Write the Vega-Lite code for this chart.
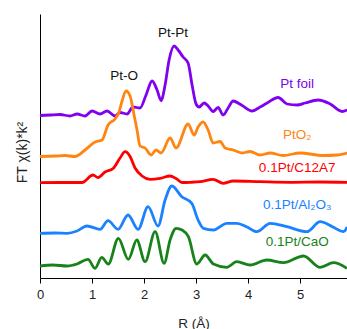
{
  "$schema": "https://vega.github.io/schema/vega-lite/v6.json",
  "width": 307,
  "height": 264,
  "autosize": {"type": "none"},
  "padding": {"left": 40, "top": 14, "right": 0, "bottom": 51},
  "background": "white",
  "config": {
    "view": {"stroke": null},
    "font": "Liberation Sans",
    "axis": {"labelFont": "Liberation Sans", "titleFont": "Liberation Sans", "grid": false}
  },
  "datasets": {
    "curves": [
      {"s": "Pt foil", "R": 0, "v": 16.25}, {"s": "Pt foil", "R": 0.192, "v": 16.3}, {"s": "Pt foil", "R": 0.385, "v": 16.35}, {"s": "Pt foil", "R": 0.577, "v": 16.2}, {"s": "Pt foil", "R": 0.712, "v": 16.4}, {"s": "Pt foil", "R": 0.865, "v": 16.2}, {"s": "Pt foil", "R": 1.0, "v": 16.7}, {"s": "Pt foil", "R": 1.154, "v": 16.4}, {"s": "Pt foil", "R": 1.288, "v": 16.7}, {"s": "Pt foil", "R": 1.442, "v": 16.2}, {"s": "Pt foil", "R": 1.538, "v": 16.55}, {"s": "Pt foil", "R": 1.673, "v": 16.4}, {"s": "Pt foil", "R": 1.788, "v": 17.1}, {"s": "Pt foil", "R": 1.923, "v": 17.0}, {"s": "Pt foil", "R": 2.038, "v": 18.3}, {"s": "Pt foil", "R": 2.154, "v": 19.7}, {"s": "Pt foil", "R": 2.25, "v": 18.8}, {"s": "Pt foil", "R": 2.327, "v": 17.75}, {"s": "Pt foil", "R": 2.404, "v": 19.3}, {"s": "Pt foil", "R": 2.481, "v": 21.8}, {"s": "Pt foil", "R": 2.577, "v": 23.2}, {"s": "Pt foil", "R": 2.654, "v": 22.8}, {"s": "Pt foil", "R": 2.75, "v": 22.1}, {"s": "Pt foil", "R": 2.846, "v": 21.5}, {"s": "Pt foil", "R": 2.923, "v": 19.3}, {"s": "Pt foil", "R": 3.0, "v": 17.4}, {"s": "Pt foil", "R": 3.058, "v": 17.1}, {"s": "Pt foil", "R": 3.154, "v": 17.5}, {"s": "Pt foil", "R": 3.231, "v": 17.2}, {"s": "Pt foil", "R": 3.327, "v": 16.65}, {"s": "Pt foil", "R": 3.423, "v": 17.05}, {"s": "Pt foil", "R": 3.519, "v": 16.3}, {"s": "Pt foil", "R": 3.615, "v": 17.0}, {"s": "Pt foil", "R": 3.712, "v": 17.7}, {"s": "Pt foil", "R": 3.885, "v": 17.25}, {"s": "Pt foil", "R": 4.077, "v": 16.7}, {"s": "Pt foil", "R": 4.231, "v": 17.1}, {"s": "Pt foil", "R": 4.365, "v": 17.5}, {"s": "Pt foil", "R": 4.577, "v": 18.05}, {"s": "Pt foil", "R": 4.75, "v": 17.4}, {"s": "Pt foil", "R": 4.942, "v": 17.3}, {"s": "Pt foil", "R": 5.096, "v": 17.5}, {"s": "Pt foil", "R": 5.346, "v": 17.8}, {"s": "Pt foil", "R": 5.577, "v": 17.4}, {"s": "Pt foil", "R": 5.808, "v": 16.65}, {"s": "Pt foil", "R": 5.904, "v": 16.8},

      {"s": "PtO2", "R": 0, "v": 12.15}, {"s": "PtO2", "R": 0.288, "v": 12.2}, {"s": "PtO2", "R": 0.481, "v": 12.25}, {"s": "PtO2", "R": 0.673, "v": 12.15}, {"s": "PtO2", "R": 0.865, "v": 12.8}, {"s": "PtO2", "R": 1.058, "v": 13.6}, {"s": "PtO2", "R": 1.192, "v": 13.8}, {"s": "PtO2", "R": 1.308, "v": 15.3}, {"s": "PtO2", "R": 1.442, "v": 15.9}, {"s": "PtO2", "R": 1.519, "v": 16.6}, {"s": "PtO2", "R": 1.577, "v": 17.7}, {"s": "PtO2", "R": 1.654, "v": 18.7}, {"s": "PtO2", "R": 1.731, "v": 18.2}, {"s": "PtO2", "R": 1.808, "v": 16.3}, {"s": "PtO2", "R": 1.865, "v": 14.8}, {"s": "PtO2", "R": 1.923, "v": 13.2}, {"s": "PtO2", "R": 2.019, "v": 13.0}, {"s": "PtO2", "R": 2.135, "v": 12.3}, {"s": "PtO2", "R": 2.231, "v": 12.8}, {"s": "PtO2", "R": 2.327, "v": 12.5}, {"s": "PtO2", "R": 2.5, "v": 14.0}, {"s": "PtO2", "R": 2.615, "v": 13.0}, {"s": "PtO2", "R": 2.846, "v": 15.4}, {"s": "PtO2", "R": 2.962, "v": 14.3}, {"s": "PtO2", "R": 3.038, "v": 15.1}, {"s": "PtO2", "R": 3.135, "v": 15.6}, {"s": "PtO2", "R": 3.231, "v": 14.8}, {"s": "PtO2", "R": 3.327, "v": 13.5}, {"s": "PtO2", "R": 3.462, "v": 13.65}, {"s": "PtO2", "R": 3.558, "v": 13.0}, {"s": "PtO2", "R": 3.712, "v": 12.8}, {"s": "PtO2", "R": 3.885, "v": 12.5}, {"s": "PtO2", "R": 4.038, "v": 12.65}, {"s": "PtO2", "R": 4.231, "v": 12.3}, {"s": "PtO2", "R": 4.423, "v": 12.5}, {"s": "PtO2", "R": 4.673, "v": 12.25}, {"s": "PtO2", "R": 5.0, "v": 12.5}, {"s": "PtO2", "R": 5.442, "v": 12.25}, {"s": "PtO2", "R": 5.712, "v": 12.3}, {"s": "PtO2", "R": 5.904, "v": 12.5},

      {"s": "C12A7", "R": 0, "v": 9.53}, {"s": "C12A7", "R": 0.385, "v": 9.55}, {"s": "C12A7", "R": 0.808, "v": 9.55}, {"s": "C12A7", "R": 1.019, "v": 10.3}, {"s": "C12A7", "R": 1.115, "v": 10.05}, {"s": "C12A7", "R": 1.25, "v": 10.6}, {"s": "C12A7", "R": 1.404, "v": 10.95}, {"s": "C12A7", "R": 1.538, "v": 12.0}, {"s": "C12A7", "R": 1.635, "v": 12.63}, {"s": "C12A7", "R": 1.731, "v": 12.15}, {"s": "C12A7", "R": 1.827, "v": 11.0}, {"s": "C12A7", "R": 1.962, "v": 10.2}, {"s": "C12A7", "R": 2.115, "v": 9.87}, {"s": "C12A7", "R": 2.308, "v": 9.97}, {"s": "C12A7", "R": 2.5, "v": 10.2}, {"s": "C12A7", "R": 2.615, "v": 9.95}, {"s": "C12A7", "R": 2.731, "v": 9.55}, {"s": "C12A7", "R": 2.885, "v": 9.57}, {"s": "C12A7", "R": 3.077, "v": 9.63}, {"s": "C12A7", "R": 3.327, "v": 9.87}, {"s": "C12A7", "R": 3.519, "v": 9.47}, {"s": "C12A7", "R": 3.712, "v": 9.7}, {"s": "C12A7", "R": 4.231, "v": 9.63}, {"s": "C12A7", "R": 4.808, "v": 9.57}, {"s": "C12A7", "R": 5.385, "v": 9.6}, {"s": "C12A7", "R": 5.904, "v": 9.57},

      {"s": "Al2O3", "R": 0, "v": 4.47}, {"s": "Al2O3", "R": 0.288, "v": 4.5}, {"s": "Al2O3", "R": 0.519, "v": 4.47}, {"s": "Al2O3", "R": 0.712, "v": 4.7}, {"s": "Al2O3", "R": 0.904, "v": 5.2}, {"s": "Al2O3", "R": 1.154, "v": 4.87}, {"s": "Al2O3", "R": 1.308, "v": 5.73}, {"s": "Al2O3", "R": 1.5, "v": 4.87}, {"s": "Al2O3", "R": 1.692, "v": 6.3}, {"s": "Al2O3", "R": 1.885, "v": 4.87}, {"s": "Al2O3", "R": 2.077, "v": 7.13}, {"s": "Al2O3", "R": 2.269, "v": 5.2}, {"s": "Al2O3", "R": 2.404, "v": 7.8}, {"s": "Al2O3", "R": 2.533, "v": 9.2}, {"s": "Al2O3", "R": 2.725, "v": 8.13}, {"s": "Al2O3", "R": 2.917, "v": 7.47}, {"s": "Al2O3", "R": 3.038, "v": 5.8}, {"s": "Al2O3", "R": 3.14, "v": 4.97}, {"s": "Al2O3", "R": 3.333, "v": 4.8}, {"s": "Al2O3", "R": 3.59, "v": 5.47}, {"s": "Al2O3", "R": 3.783, "v": 5.47}, {"s": "Al2O3", "R": 3.98, "v": 5.1}, {"s": "Al2O3", "R": 4.167, "v": 4.63}, {"s": "Al2O3", "R": 4.423, "v": 5.47}, {"s": "Al2O3", "R": 4.744, "v": 5.13}, {"s": "Al2O3", "R": 5.128, "v": 4.63}, {"s": "Al2O3", "R": 5.385, "v": 5.63}, {"s": "Al2O3", "R": 5.64, "v": 5.07}, {"s": "Al2O3", "R": 5.833, "v": 4.63}, {"s": "Al2O3", "R": 5.904, "v": 5.1},

      {"s": "CaO", "R": 0, "v": 1.2}, {"s": "CaO", "R": 0.25, "v": 1.3}, {"s": "CaO", "R": 0.519, "v": 1.2}, {"s": "CaO", "R": 0.712, "v": 1.4}, {"s": "CaO", "R": 0.923, "v": 1.87}, {"s": "CaO", "R": 1.058, "v": 0.97}, {"s": "CaO", "R": 1.187, "v": 2.07}, {"s": "CaO", "R": 1.313, "v": 1.4}, {"s": "CaO", "R": 1.506, "v": 3.97}, {"s": "CaO", "R": 1.698, "v": 1.87}, {"s": "CaO", "R": 1.86, "v": 3.8}, {"s": "CaO", "R": 2.019, "v": 1.63}, {"s": "CaO", "R": 2.212, "v": 4.63}, {"s": "CaO", "R": 2.385, "v": 1.47}, {"s": "CaO", "R": 2.5, "v": 3.8}, {"s": "CaO", "R": 2.615, "v": 4.97}, {"s": "CaO", "R": 2.731, "v": 4.8}, {"s": "CaO", "R": 2.852, "v": 4.13}, {"s": "CaO", "R": 3.013, "v": 1.4}, {"s": "CaO", "R": 3.173, "v": 2.3}, {"s": "CaO", "R": 3.333, "v": 1.4}, {"s": "CaO", "R": 3.59, "v": 1.07}, {"s": "CaO", "R": 3.783, "v": 1.63}, {"s": "CaO", "R": 4.038, "v": 1.3}, {"s": "CaO", "R": 4.36, "v": 1.8}, {"s": "CaO", "R": 4.679, "v": 1.53}, {"s": "CaO", "R": 5.064, "v": 2.2}, {"s": "CaO", "R": 5.385, "v": 1.07}, {"s": "CaO", "R": 5.64, "v": 1.53}, {"s": "CaO", "R": 5.898, "v": 0.97}
    ],
    "labels": [
      {"s": "peak", "R": 2.558, "v": 24.5, "t": "Pt-Pt"},
      {"s": "peak", "R": 1.615, "v": 20.2, "t": "Pt-O"},
      {"s": "Pt foil", "R": 4.942, "v": 19.4, "t": "Pt foil"},
      {"s": "PtO2", "R": 4.942, "v": 14.3, "t": "PtO₂"},
      {"s": "C12A7", "R": 4.942, "v": 11.0, "t": "0.1Pt/C12A7"},
      {"s": "Al2O3", "R": 4.942, "v": 7.3, "t": "0.1Pt/Al₂O₃"},
      {"s": "CaO", "R": 4.942, "v": 3.65, "t": "0.1Pt/CaO"}
    ]
  },
  "layer": [
    {
      "mark": {"type": "rule", "color": "black", "strokeWidth": 1},
      "encoding": {"y": {"datum": 26.4, "type": "quantitative", "scale": {"domain": [0, 26.4]}}}
    },
    {
      "data": {"name": "curves"},
      "mark": {"type": "line", "interpolate": "monotone", "strokeWidth": 2.8, "clip": true},
      "encoding": {
        "x": {
          "field": "R", "type": "quantitative",
          "scale": {"domain": [0, 5.9], "nice": false},
          "axis": {
            "values": [0, 1, 2, 3, 4, 5], "format": "d",
            "title": "R (Å)", "titleFontSize": 13.5, "titleFontWeight": "normal", "titleColor": "#222",
            "titlePadding": 15,
            "labelFontSize": 13, "labelColor": "#222", "labelPadding": 5,
            "domainColor": "black", "tickColor": "black", "tickSize": 5, "labelFlush": false
          }
        },
        "y": {
          "field": "v", "type": "quantitative",
          "scale": {"domain": [0, 26.4], "nice": false, "zero": false},
          "axis": {
            "title": "FT χ(k)*k²", "titleFontSize": 14, "titleFontWeight": "normal", "titleColor": "#222",
            "labels": false, "ticks": false, "domainColor": "black", "titlePadding": 11, "titleY": 138
          }
        },
        "color": {
          "field": "s", "type": "nominal",
          "scale": {
            "domain": ["Pt foil", "PtO2", "C12A7", "Al2O3", "CaO", "peak"],
            "range": ["#8000f0", "#ff8410", "#ff0000", "#1a82ff", "#17821a", "#111111"]
          },
          "legend": null
        },
        "detail": {"field": "s"}
      }
    },
    {
      "data": {"name": "labels"},
      "mark": {"type": "text", "fontSize": 13.5, "baseline": "middle", "align": "center", "font": "Liberation Sans"},
      "encoding": {
        "x": {"field": "R", "type": "quantitative"},
        "y": {"field": "v", "type": "quantitative"},
        "text": {"field": "t"},
        "color": {"field": "s", "type": "nominal", "legend": null}
      }
    }
  ]
}
